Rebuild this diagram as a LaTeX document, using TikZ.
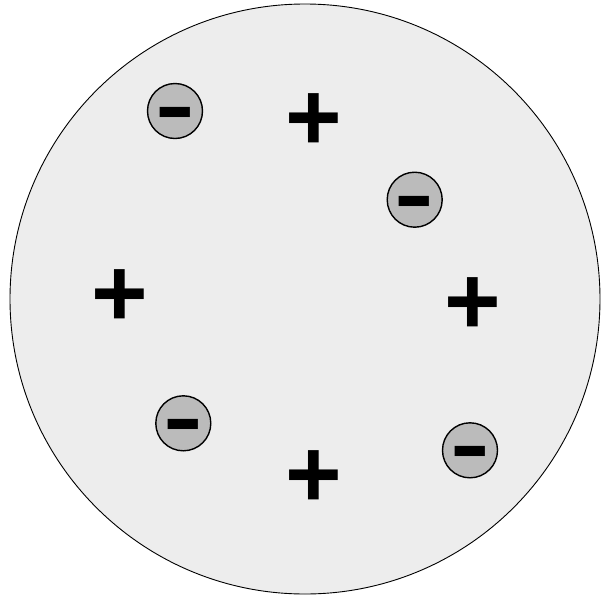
\documentclass[tikz,border=0pt]{standalone}
\usepackage{fontspec}
\setmainfont{Liberation Sans}
\definecolor{puddingFill}{HTML}{EDEDED}
\definecolor{electronFill}{HTML}{BBBBBB}

\begin{document}
\begin{tikzpicture}[x=1pt,y=-1pt,
  pudding/.style={circle,draw=black,fill=puddingFill,line width=.9pt,minimum size=590pt,inner sep=0pt},
  electron/.style={circle,draw=black,fill=electronFill,line width=1.4pt,minimum size=55pt,inner sep=0pt},
  charge/.style={inner sep=0pt,yshift=-3pt,font=\bfseries\fontsize{97}{97}\selectfont},
  minus/.style={inner sep=0pt,yshift=-10pt,font=\bfseries\fontsize{85}{85}\selectfont}
]
\useasboundingbox (0,0) rectangle (603,595);
% the positive pudding
\node[pudding] (atom) at (305,299) {};
% electrons
\node[electron] (e1) at (175,111) {};
\node[electron] (e2) at (414.7,199.7) {};
\node[electron] (e3) at (183.3,423.3) {};
\node[electron] (e4) at (470,450.3) {};
\node[minus] (m1) at (e1) {\scalebox{1.4}[1]{-}};
\node[minus] (m2) at (e2) {\scalebox{1.4}[1]{-}};
\node[minus] (m3) at (e3) {\scalebox{1.4}[1]{-}};
\node[minus] (m4) at (e4) {\scalebox{1.4}[1]{-}};
% positive charges
\node[charge] (p1) at (313.5,119.5) {+};
\node[charge] (p2) at (119.8,295.3) {+};
\node[charge] (p3) at (472.8,303.3) {+};
\node[charge] (p4) at (313.8,476.5) {+};
\end{tikzpicture}
\end{document}
